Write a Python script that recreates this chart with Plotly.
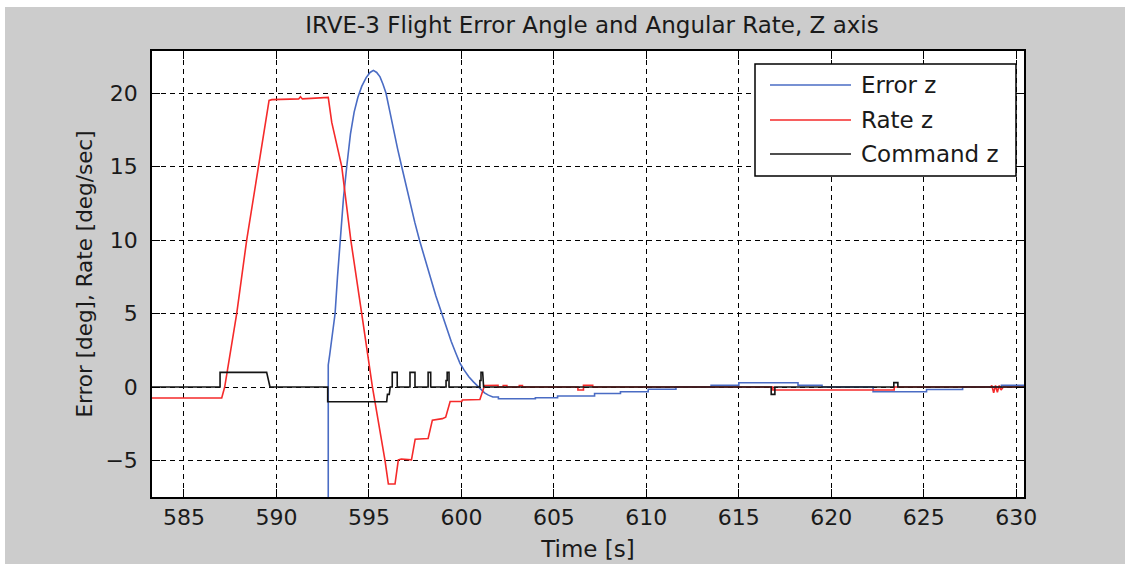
import plotly.graph_objects as go

# ---------------- data ----------------
series_names = ["Error z", "Rate z", "Command z"]
series_colors = ["#4a6cc4", "#f52a2a", "#141414"]

error_time = [592.80, 592.80, 592.88, 593.08, 593.17, 593.30, 593.44, 593.62, 593.80, 594.00,
              594.20, 594.40, 594.61, 594.85, 595.06, 595.24, 595.42, 595.60, 595.76, 595.92,
              596.12, 596.32, 596.55, 596.77, 597.00, 597.23, 597.48, 597.73, 598.00, 598.30,
              598.62, 598.94, 599.20, 599.45, 599.70, 599.93, 600.15, 600.40, 600.65, 600.92,
              601.10, 601.25, 601.46, 601.70, 602.00, 602.00, 604.00, 604.00, 605.20, 605.20,
              607.20, 607.20, 608.60, 608.60, 610.10, 610.10, 611.60, 611.60, 613.50, 613.50,
              615.00, 615.00, 618.20, 618.20, 619.50, 619.50, 622.26, 622.26, 625.15, 625.15,
              627.10, 627.10, 629.20, 629.20, 630.50]
error_value = [-10.0, 1.5, 2.2, 4.0, 5.0, 7.5, 10.0, 12.8, 15.0, 17.2,
               18.7, 19.7, 20.45, 21.05, 21.4, 21.54, 21.4, 21.1, 20.6, 20.0,
               18.8, 17.5, 16.2, 15.0, 13.7, 12.5, 11.2, 10.0, 8.8, 7.5,
               6.2, 5.0, 4.0, 3.1, 2.3, 1.6, 1.15, 0.7, 0.35, 0.0,
               -0.25, -0.4, -0.55, -0.68, -0.68, -0.8, -0.8, -0.73, -0.73, -0.61,
               -0.61, -0.44, -0.44, -0.32, -0.32, -0.15, -0.15, 0.0, 0.0, 0.12,
               0.12, 0.29, 0.29, 0.12, 0.12, 0.0, 0.0, -0.32, -0.32, -0.17,
               -0.17, 0.0, 0.0, 0.12, 0.12]

rate_time = [583.00, 587.04, 587.20, 587.85, 588.39, 589.02, 589.60, 589.75, 591.20, 591.30,
             591.40, 592.80, 592.99, 593.53, 594.02, 594.61, 595.19, 595.87, 596.05, 596.41,
             596.59, 596.75, 597.30, 597.50, 598.20, 598.43, 598.97, 599.15, 599.39, 600.02,
             600.05, 601.00, 601.25, 601.98, 601.98, 602.26, 602.26, 602.46, 602.46, 603.13,
             603.13, 603.30, 603.30, 606.30, 606.30, 606.60, 606.60, 607.10, 607.10, 616.84,
             616.84, 623.40, 623.40, 628.60, 628.68, 628.78, 628.88, 628.98, 629.08, 629.18,
             629.30, 630.50]
rate_value = [-0.75, -0.75, 0.0, 5.0, 10.0, 15.0, 19.5, 19.55, 19.6, 19.75,
              19.6, 19.7, 18.0, 15.0, 10.0, 5.0, 0.0, -5.0, -6.6, -6.6,
              -4.95, -4.9, -4.95, -3.55, -3.5, -2.25, -2.15, -2.05, -0.98, -0.98,
              -0.88, -0.85, 0.1, 0.12, 0.0, 0.0, 0.1, 0.1, 0.0, 0.0,
              0.1, 0.1, 0.0, 0.0, -0.2, -0.2, 0.12, 0.12, 0.0, 0.0,
              -0.2, -0.2, 0.0, 0.0, 0.1, -0.4, 0.1, -0.35, 0.1, -0.2,
              0.0, 0.0]

command_time = [583.00, 586.95, 586.95, 589.47, 589.65, 592.77, 592.77, 595.96, 596.00, 596.10,
                596.15, 596.26, 596.26, 596.53, 596.53, 597.22, 597.22, 597.49, 597.49, 598.20,
                598.20, 598.34, 598.34, 599.17, 599.17, 599.23, 599.23, 599.33, 599.33, 601.00,
                601.00, 601.06, 601.06, 601.15, 601.20, 616.75, 616.75, 616.95, 616.95, 623.38,
                623.38, 623.60, 623.60, 630.50]
command_value = [0, 0, 1, 1, 0, 0, -1, -1, -0.5, -0.5,
                 0, 0, 1, 1, 0, 0, 1, 1, 0, 0,
                 1, 1, 0, 0, 0.45, 0.45, 1, 1, 0, 0,
                 0.45, 0.45, 1, 1, 0, 0, -0.5, -0.5, 0, 0,
                 0.3, 0.3, 0, 0]

x_ticks = [585, 590, 595, 600, 605, 610, 615, 620, 625, 630]
y_ticks = [-5, 0, 5, 10, 15, 20]
x_range = [583.27, 630.42]
y_range = [-7.48, 22.86]

title_text = "IRVE-3 Flight Error Angle and Angular Rate, Z axis"
x_title = "Time [s]"
y_title = "Error [deg], Rate [deg/sec]"

assert len(error_time) == len(error_value)
assert len(rate_time) == len(rate_value)
assert len(command_time) == len(command_value)

# ---------------- figure ----------------
W, H = 1125, 564
ML, MR, MT, MB = 152, 101, 51, 67
PW, PH = W - ML - MR, H - MT - MB
FONT = "DejaVu Sans, Verdana, sans-serif"
TXT = "#1a1a1a"
BG = "#cccccc"


def px_x(p):  # page pixel -> paper x
    return (p - ML) / PW


def px_y(p):  # page pixel -> paper y
    return (H - MB - p) / PH


fig = go.Figure()
series = [(error_time, error_value), (rate_time, rate_value), (command_time, command_value)]
for (t, v), name, col in zip(series, series_names, series_colors):
    fig.add_trace(go.Scatter(x=t, y=v, mode="lines", name=name,
                             line=dict(color=col, width=1.6), showlegend=False))

axis_common = dict(
    showline=True, linecolor="#000000", linewidth=1.5, mirror="ticks",
    ticks="inside", ticklen=8, tickwidth=1.3, tickcolor="#000000",
    showgrid=True, gridcolor="#000000", gridwidth=1, griddash="5px,4px",
    zeroline=False, tickfont=dict(family=FONT, size=22, color=TXT),
)

fig.update_xaxes(range=x_range, tickvals=x_ticks, ticklabelstandoff=0,
                 title=dict(text=x_title, font=dict(family=FONT, size=23, color=TXT), standoff=12),
                 **axis_common)
fig.update_yaxes(range=y_range, tickvals=y_ticks, ticklabelstandoff=8,
                 title=dict(text=y_title, font=dict(family=FONT, size=21.5, color=TXT), standoff=7),
                 **axis_common)

shapes = [
    # thin white strips at the very top and left of the canvas
    dict(type="rect", xref="paper", yref="paper", x0=px_x(0), x1=px_x(5), y0=px_y(H), y1=px_y(0),
         fillcolor="white", line=dict(width=0), layer="below"),
    dict(type="rect", xref="paper", yref="paper", x0=px_x(0), x1=px_x(W), y0=px_y(7), y1=px_y(0),
         fillcolor="white", line=dict(width=0), layer="below"),
    # legend box
    dict(type="rect", xref="paper", yref="paper", x0=px_x(755), x1=px_x(1016),
         y0=px_y(176), y1=px_y(64), fillcolor="white", line=dict(color="#000000", width=1.5)),
]
annotations = []
row_y = [85, 120, 154]
for name, col, ry in zip(series_names, series_colors, row_y):
    shapes.append(dict(type="line", xref="paper", yref="paper", x0=px_x(770), x1=px_x(851),
                       y0=px_y(ry), y1=px_y(ry), line=dict(color=col, width=1.6)))
    annotations.append(dict(xref="paper", yref="paper", x=px_x(859), y=px_y(ry), text=name,
                            showarrow=False, xanchor="left", yanchor="middle",
                            font=dict(family=FONT, size=23, color=TXT)))

fig.update_layout(
    width=W, height=H, margin=dict(l=ML, r=MR, t=MT, b=MB, autoexpand=False),
    paper_bgcolor=BG, plot_bgcolor="white",
    title=dict(text=title_text, x=px_x(592), xref="paper", xanchor="center",
               y=1 - 25 / H, yanchor="middle", yref="container",
               font=dict(family=FONT, size=23, color=TXT)),
    shapes=shapes, annotations=annotations, showlegend=False,
)

# remove the default page margin so the figure fills the window exactly
fig.write_html("out.html", config={"displayModeBar": False},
               post_script="document.body.style.margin='0';document.body.style.overflow='hidden';")
